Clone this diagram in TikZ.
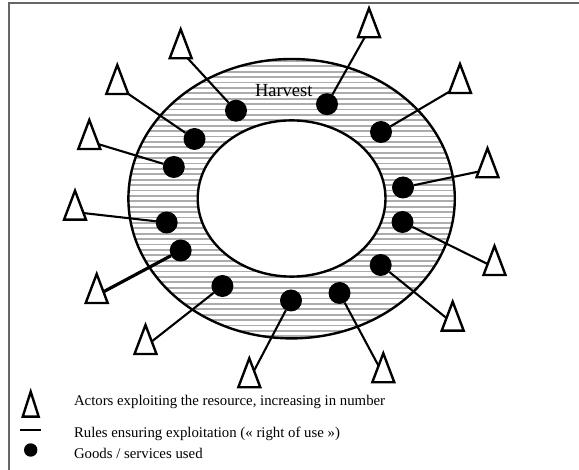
\documentclass[tikz,border=0pt]{standalone}
\usepackage{fontspec}
\setmainfont{Liberation Serif}
\usetikzlibrary{shapes.geometric}

\begin{document}
\begin{tikzpicture}[
    x=1pt, y=-1pt,
    every node/.style={inner sep=0pt, outer sep=0pt},
    good/.style={
        circle, fill=black, minimum size=22pt
    },
    actor/.style={
        draw, line width=2.4pt, isosceles triangle,
        isosceles triangle stretches, shape border rotate=90,
        minimum width=22pt, minimum height=29pt, anchor=apex
    },
    rule/.style={line width=2.1pt},
    hatch/.style={gray!65, line width=1.8pt},
    ring/.style={line width=2.4pt},
    lgd/.style={font=\fontsize{14.8}{17}\selectfont, anchor=base west}
]
\useasboundingbox (0,0) rectangle (579,470);

% ----------------------------------------------------------
% Rahmen (nur links und oben sichtbar)
% ----------------------------------------------------------
\draw[black!60, line width=1.5pt] (9,470) -- (9,3) -- (579,3);

% ----------------------------------------------------------
% Ressource: schraffierter Ring zwischen zwei Ellipsen
% ----------------------------------------------------------
\begin{scope}
    \clip (291.6,198.7) ellipse [x radius=163.2, y radius=139.7];
    \foreach \yy in {0,...,52}
        \draw[hatch] (120,{61+\yy*5.4}) -- (470,{61+\yy*5.4});
\end{scope}
\fill[white] (291.6,198.5) ellipse [x radius=93.9, y radius=78.1];
\draw[ring] (291.6,198.7) ellipse [x radius=163.2, y radius=139.7];
\draw[ring] (291.6,198.5) ellipse [x radius=93.9, y radius=78.1];

\node[font=\fontsize{18.5}{20}\selectfont, anchor=base west] (harvest) at (255,96.7) {Harvest};

% ----------------------------------------------------------
% Genutzte Gueter / Dienste
% ----------------------------------------------------------
\node[good] (d1)  at (236,110.7) {};
\node[good] (d2)  at (327,104.2) {};
\node[good] (d3)  at (194.5,139) {};
\node[good] (d4)  at (381,132) {};
\node[good] (d5)  at (173.8,167) {};
\node[good] (d6)  at (403,187.5) {};
\node[good] (d7)  at (166.7,222.5) {};
\node[good] (d8)  at (402.5,222) {};
\node[good] (d9)  at (180.7,250.5) {};
\node[good] (d10) at (380.7,265) {};
\node[good] (d11) at (222.4,286) {};
\node[good] (d12) at (339.5,293) {};
\node[good] (d13) at (291,300.5) {};

% ----------------------------------------------------------
% Akteure (Dreiecke, Lage = Spitze)
% ----------------------------------------------------------
\node[actor] (t1)  at (180.7,29.3) {};
\node[actor] (t2)  at (369,8.3) {};
\node[actor] (t3)  at (117.3,65) {};
\node[actor] (t4)  at (89.3,120) {};
\node[actor] (t5)  at (75,190.7) {};
\node[actor] (t6)  at (96.7,274) {};
\node[actor] (t7)  at (145.5,325) {};
\node[actor] (t8)  at (249.3,358.3) {};
\node[actor] (t9)  at (383.3,353.3) {};
\node[actor] (t10) at (460,64) {};
\node[actor] (t11) at (487.5,148.3) {};
\node[actor] (t12) at (494.5,246) {};
\node[actor] (t13) at (452.7,301.7) {};

% Regeln: Verbindungen Gut -- Akteur
\draw[rule] (d1) -- (t1);
\draw[rule] (d2) -- (t2);
\draw[rule] (d3) -- (t3);
\draw[rule] (d5) -- (t4);
\draw[rule] (d7) -- (t5);
\draw[rule, line width=3.2pt] (d9) -- (t6);
\draw[rule] (d11) -- (t7);
\draw[rule] (d13) -- (t8);
\draw[rule] (d12) -- (t9);
\draw[rule] (d4) -- (t10);
\draw[rule] (d6) -- (t11);
\draw[rule] (d8) -- (t12);
\draw[rule] (d10) -- (t13);

% ----------------------------------------------------------
% Legende
% ----------------------------------------------------------
\node[actor, minimum width=16pt, minimum height=25pt] (la) at (30.7,391.7) {};
\coordinate (lr1) at (20,430);
\coordinate (lr2) at (41,430);
\draw[rule, line width=2.6pt] (lr1) -- (lr2);
\node[good, minimum size=13.4pt] (lg) at (30.7,450) {};

\node[lgd] (ta) at (74,406) {Actors exploiting the resource, increasing in number};
\node[lgd] (tr) at (74,438) {Rules ensuring exploitation (« right of use »)};
\node[lgd] (tg) at (74,458.5) {Goods / services used};

\end{tikzpicture}
\end{document}
